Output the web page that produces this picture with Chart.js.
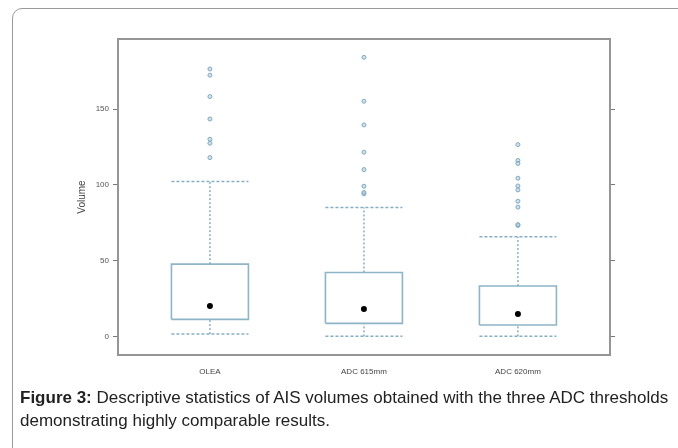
<!DOCTYPE html>
<html>
<head>
<meta charset="utf-8">
<script src="https://cdn.jsdelivr.net/npm/chart.js@4.4.1/dist/chart.umd.min.js"></script>
<style>
    html, body { margin: 0; padding: 0; background: #fff; }
    body { width: 678px; height: 448px; position: relative; overflow: hidden; }
    #card {
        position: absolute; left: 12px; top: 8px; width: 720px; height: 500px;
        border: 1px solid #9a9a9a; border-radius: 10px; box-sizing: border-box;
    }
    #plotWrap { position: absolute; left: 0; top: 0; width: 678px; height: 390px; }
    #caption {
        position: absolute; left: 20px; top: 386px; width: 660px;
        font-family: "Liberation Sans Narrow", "Arial Narrow", "Liberation Sans", Arial, sans-serif;
        font-size: 17px; line-height: 23px; color: #222;
    }
    #caption b { font-weight: bold; }
</style>
</head>
<body>
<div id="card"></div>
<div id="plotWrap"><canvas id="boxChart" width="678" height="390"></canvas></div>
<div id="caption"><b>Figure 3:</b> Descriptive statistics of AIS volumes obtained with the three ADC thresholds<br>demonstrating highly comparable results.</div>

<script>
// Data
const categories = ['OLEA', 'ADC 615mm', 'ADC 620mm'];
const lowerWhisker = [1.5, 0, 0];
const q1 = [11.2, 8.6, 7.5];
const centre = [20, 18, 14.7];
const q3 = [47.7, 42.2, 33.2];
const upperWhisker = [102.2, 85.1, 65.7];
const outliers = [
    [176.5, 172.4, 158.3, 143.5, 130.1, 127.5, 118],
    [184.2, 155.2, 139.6, 121.6, 110.1, 99.1, 94.1, 95.0],
    [126.6, 116.1, 114.1, 104.4, 99.3, 96.7, 89.2, 85.3, 73.2, 73.8]
];
const yTicks = [0, 50, 100, 150];

const boxColor = '#8db4c7';
const whiskerColor = '#86aec3';
const halfWidth = 0.25;

// Build the datasets for each group
const datasets = [];
categories.forEach((cat, i) => {
    const x = i + 1;
    // box
    datasets.push({
        type: 'line',
        data: [
            { x: x - halfWidth, y: q1[i] }, { x: x + halfWidth, y: q1[i] },
            { x: x + halfWidth, y: q3[i] }, { x: x - halfWidth, y: q3[i] },
            { x: x - halfWidth, y: q1[i] }
        ],
        borderColor: boxColor, borderWidth: 1.6, pointRadius: 0, fill: false, tension: 0
    });
    // whiskers (dotted)
    [[lowerWhisker[i], q1[i]], [q3[i], upperWhisker[i]]].forEach(pair => {
        datasets.push({
            type: 'line',
            data: [{ x: x, y: pair[0] }, { x: x, y: pair[1] }],
            borderColor: whiskerColor, borderWidth: 1.5, borderDash: [2, 2],
            pointRadius: 0, fill: false
        });
    });
    // caps (dashed)
    [lowerWhisker[i], upperWhisker[i]].forEach(v => {
        datasets.push({
            type: 'line',
            data: [{ x: x - halfWidth, y: v }, { x: x + halfWidth, y: v }],
            borderColor: whiskerColor, borderWidth: 1.5, borderDash: [3, 2],
            pointRadius: 0, fill: false
        });
    });
    // outliers
    datasets.push({
        type: 'scatter',
        data: outliers[i].map(v => ({ x: x, y: v })),
        pointRadius: 2, pointBorderWidth: 1,
        pointBorderColor: '#7fa9c0', pointBackgroundColor: 'rgba(180,205,218,0.6)'
    });
});
// centre dots
datasets.push({
    type: 'scatter',
    data: centre.map((v, i) => ({ x: i + 1, y: v })),
    pointRadius: 3, pointBackgroundColor: '#000', pointBorderColor: '#000', pointBorderWidth: 0
});

// frame around the plot area
const framePlugin = {
    id: 'frame',
    afterDatasetsDraw(chart) {
        const { ctx, chartArea: a } = chart;
        ctx.save();
        ctx.strokeStyle = '#959595';
        ctx.lineWidth = 2;
        ctx.strokeRect(a.left, a.top, a.right - a.left, a.bottom - a.top);
        ctx.restore();
    }
};

const ctx = document.getElementById('boxChart').getContext('2d');
const boxChart = new Chart(ctx, {
    type: 'scatter',
    data: { datasets: datasets },
    plugins: [framePlugin],
    options: {
        responsive: false,
        animation: false,
        layout: { padding: { left: 72, top: 39, right: 0, bottom: 0 } },
        plugins: { legend: { display: false }, tooltip: { enabled: false } },
        scales: {
            x: {
                type: 'linear', min: 0.403, max: 3.598,
                afterBuildTicks: s => { s.ticks = categories.map((c, i) => ({ value: i + 1 })); },
                afterFit: s => { s.height = 35; },
                grid: { display: false },
                border: { display: false },
                ticks: {
                    callback: (v) => categories[Math.round(v) - 1],
                    font: { family: 'Liberation Sans, Arial, sans-serif', size: 8 },
                    color: '#444', padding: 4, maxRotation: 0
                }
            },
            y: {
                type: 'linear', position: 'left', min: -12.3, max: 196.3,
                afterBuildTicks: s => { s.ticks = yTicks.map(v => ({ value: v })); },
                afterFit: s => { s.width = 46; },
                grid: { drawOnChartArea: false, drawTicks: true, tickLength: 5, color: '#777' },
                border: { display: false },
                ticks: { font: { family: 'Liberation Sans, Arial, sans-serif', size: 8 }, color: '#555', padding: 4 },
                title: {
                    display: true, text: 'Volume', color: '#444',
                    font: { family: 'Liberation Sans, Arial, sans-serif', size: 10 }
                }
            },
            yRight: {
                type: 'linear', position: 'right', min: -12.3, max: 196.3,
                afterBuildTicks: s => { s.ticks = yTicks.map(v => ({ value: v })); },
                afterFit: s => { s.width = 68; },
                grid: { drawOnChartArea: false, drawTicks: true, tickLength: 5, color: '#777' },
                border: { display: false },
                ticks: { display: false }
            }
        }
    }
});
</script>
</body>
</html>
